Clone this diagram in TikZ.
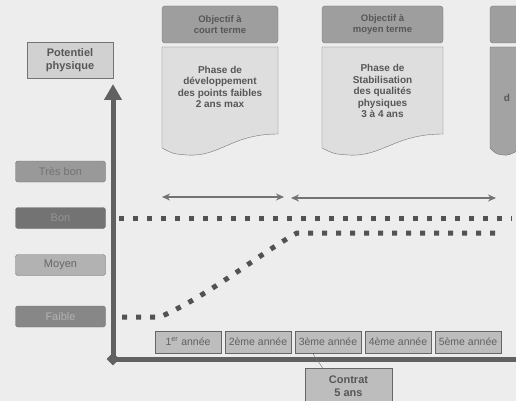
\documentclass[tikz,border=0pt]{standalone}
\usepackage{fontspec}
\setmainfont{Liberation Sans}
\usetikzlibrary{arrows.meta,shapes.geometric}
\colorlet{bgc}{black!7}
\colorlet{axisc}{black!62}
\colorlet{dotc}{black!68}
\colorlet{docc}{black!13}
\colorlet{objc}{black!38}
\colorlet{textc}{black!66}
\tikzstyle{graph} = [
  x=1pt,
  y=-1pt,
  font=\fontsize{10}{11.5}\selectfont\bfseries,
  text=textc,
]
\tikzstyle{axis} = [line width=5pt, axisc]
\tikzstyle{levelbox} = [
  draw=black!55,
  rounded corners=2.5pt,
  minimum width=90pt,
  minimum height=21pt,
  inner sep=0pt,
  font=\fontsize{11}{12}\selectfont,
]
\tikzstyle{yearbox} = [
  draw=black!60,
  fill=black!26,
  text=black!62,
  minimum width=66pt,
  minimum height=22pt,
  inner sep=0pt,
  font=\fontsize{10.5}{12}\selectfont,
]
\tikzstyle{objbox} = [
  draw=black!55,
  fill=objc,
  rounded corners=3pt,
  minimum height=37pt,
  inner sep=0pt,
  align=center,
  font=\fontsize{9.5}{11}\selectfont\bfseries,
]
\tikzstyle{span} = [line width=1.8pt, black!55, {Stealth[length=8pt,width=7pt]}-{Stealth[length=8pt,width=7pt]}]
\tikzstyle{squares} = [line width=5pt, dotc, dash pattern=on 5pt off 9pt]

\begin{document}
\begin{tikzpicture}[graph]
      \useasboundingbox (0,0) rectangle (516,401);
      \clip (0,0) rectangle (516,401);
      \fill[bgc] (0,0) rectangle (516,401);

      % Phases
      \foreach \x/\w/\c in {162/116/docc, 322/121/docc, 490/60/black!36} {
          \draw[black!55, fill=\c] (\x,47) -- ({\x+\w},47) -- ({\x+\w},134)
              .. controls ({\x+0.6*\w},134) and ({\x+0.5*\w},157) .. ({\x+0.22*\w},155)
              .. controls ({\x+0.1*\w},154) .. (\x,148) -- cycle;
      }
      \node[objbox, minimum width=116pt] (obj1) at (220,24.5) {Objectif à\\court terme};
      \node[objbox, minimum width=121pt] (obj2) at (382.5,24.5) {Objectif à\\moyen terme};
      \node[objbox, minimum width=60pt] (obj3) at (520,24.5) {};
      \node[align=center] (ph1) at (220,87) {Phase de\\développement\\des points faibles\\2 ans max};
      \node[align=center] (ph2) at (382.5,91) {Phase de\\Stabilisation\\des qualités\\physiques\\3 à 4 ans};
      \node (ph3) at (507,98) {d};

      % Durations
      \coordinate (s1a) at (162,197);
      \coordinate (s1b) at (284,197);
      \coordinate (s2a) at (291,198);
      \coordinate (s2b) at (496,198);
      \draw[span] (s1a) -- (s1b);
      \draw[span] (s2a) -- (s2b);

      % Axes
      \coordinate (orig) at (113,359);
      \coordinate (ytop) at (113,84);
      \coordinate (xend) at (520,359);
      \draw[axis, -{Triangle[width=17pt,length=16pt]}] (orig) -- (ytop);
      \draw[axis] (orig) -- (xend);
      \node[diamond, fill=axisc, minimum size=13pt, inner sep=0pt] (o) at (orig) {};
      \node[draw=black!55, fill=black!18, minimum width=86pt, minimum height=36pt,
            align=center, font=\fontsize{11}{12.5}\selectfont\bfseries] (pot) at (70,60)
            {Potentiel\\physique};

      % Levels
      \node[levelbox, fill=black!40, text=black!55] (tresbon) at (60.5,171.5) {Très bon};
      \node[levelbox, fill=black!55, text=black!42] (bon) at (60.5,218) {Bon};
      \node[levelbox, fill=black!30, text=black!60] (moyen) at (60.5,265) {Moyen};
      \node[levelbox, fill=black!47, text=black!30] (faible) at (60.5,316.5) {Faible};

      % Curves
      \coordinate (hia) at (119,218);
      \coordinate (hib) at (512,218);
      \coordinate (loa) at (122,317);
      \coordinate (lob) at (160,317);
      \coordinate (loc) at (297,233);
      \coordinate (lod) at (502,233);
      \draw[squares] (hia) -- (hib);
      \draw[squares] (loa) -- (lob) .. controls (210,295) and (262,252) .. (loc) -- (lod);

      % Years
      \node[yearbox] (y1) at (188,342) {1\textsuperscript{er} année};
      \node[yearbox] (y2) at (258,342) {2ème année};
      \node[yearbox] (y3) at (328,342) {3ème année};
      \node[yearbox] (y4) at (398,342) {4ème année};
      \node[yearbox] (y5) at (468,342) {5ème année};

      % Contract
      \node[draw=black!60, fill=black!26, minimum width=87pt, minimum height=36pt,
            align=center, font=\fontsize{11}{13.5}\selectfont\bfseries] (contrat) at (348.5,386)
            {Contrat\\5 ans};
      \draw[black!55, thin] (y3.-144) -- (contrat.145);
    \end{tikzpicture}
\end{document}
